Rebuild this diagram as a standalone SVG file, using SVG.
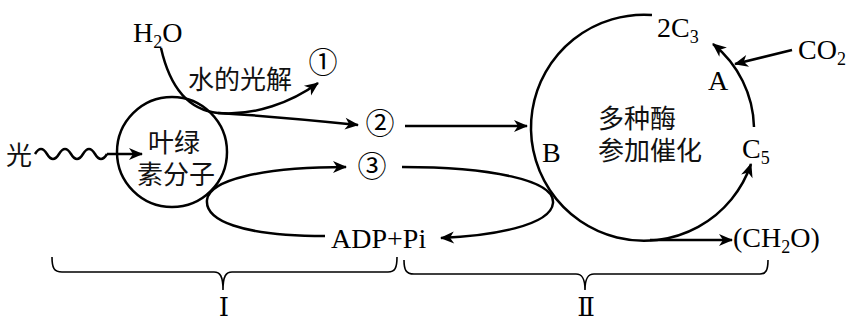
<svg xmlns="http://www.w3.org/2000/svg" width="852" height="322" viewBox="0 0 852 322">
<style>
.ln{fill:none;stroke:#000;stroke-width:2.5}
.br{fill:none;stroke:#000;stroke-width:1.6}
.cj{font-family:"Noto Sans CJK SC","Noto Sans",sans-serif;font-size:26px;fill:#111}
.sr{font-family:"Liberation Serif","DejaVu Serif",serif;font-size:28px;fill:#000}
.rn{font-family:"Liberation Serif","DejaVu Serif",serif;font-size:26px;fill:#000}
.sb{font-size:18px}
.num{font-family:"Noto Sans CJK SC","DejaVu Sans",sans-serif;font-size:29px;fill:#000}
</style>
<defs>
<marker id="ar" markerUnits="userSpaceOnUse" markerWidth="20" markerHeight="14" viewBox="-14 -7 16 14" refX="0" refY="0" orient="auto">
<path d="M1,0 L-13,-6 L-9,0 L-13,6 Z" fill="#000"/>
</marker>
</defs>
<rect width="852" height="322" fill="#fff"/>
<g id="connectors">
<path class="ln" d="M161,48 C170,88 188,110 218,113 C255,116 292,102 318,83" marker-end="url(#ar)"/>
<path class="ln" d="M218,113 C270,116 320,121 358,125" marker-end="url(#ar)"/>
<path class="ln" d="M35,155 Q41,145 47,155 T59,155 T71,155 T83,155 T95,155 T107,155" transform="translate(0,-1)"/>
<path class="ln" d="M107,154 L142,154" marker-end="url(#ar)"/>
<path class="ln" d="M405,126 L527,126" marker-end="url(#ar)"/>
<path class="ln" d="M325,236 C240,236 205,220 207,200 C209,180 262,167 346,167" marker-end="url(#ar)"/>
<path class="ln" d="M402,167 C490,167 555,180 553,203 C551,226 490,236 441,238" marker-end="url(#ar)"/>
<path class="ln" d="M652,15 A113,113 0 1 0 751,164" marker-end="url(#ar)"/>
<path class="ln" d="M754,127 A110,110 0 0 0 713,44" marker-end="url(#ar)"/>
<path class="ln" d="M650,240 L732,240" marker-end="url(#ar)"/>
<path class="ln" d="M792,50 L735,64" marker-end="url(#ar)"/>
</g>
<g id="chlorophyll">
<circle cx="172" cy="152" r="55" fill="none" stroke="#000" stroke-width="2.5"/>
<text class="cj" text-anchor="middle"><tspan x="174" y="152">叶绿</tspan><tspan x="176" dy="32">素分子</tspan></text>
</g>
<g id="light"><text class="cj" x="6" y="165">光</text></g>
<g id="h2o"><text class="sr" x="133" y="42">H<tspan class="sb" dy="6">2</tspan><tspan dy="-6">O</tspan></text></g>
<g id="photolysis"><text class="cj" x="188" y="89">水的光解</text></g>
<g id="n1"><text class="num" x="323" y="73" text-anchor="middle">①</text></g>
<g id="n2"><text class="num" x="380" y="134" text-anchor="middle">②</text></g>
<g id="n3"><text class="num" x="372" y="177" text-anchor="middle">③</text></g>
<g id="adp"><text class="sr" x="331" y="248">ADP+Pi</text></g>
<g id="c3"><text class="sr" x="657" y="37">2C<tspan class="sb" dy="6">3</tspan></text></g>
<g id="co2"><text class="sr" x="798" y="59">CO<tspan class="sb" dy="6">2</tspan></text></g>
<g id="labelA"><text class="sr" x="708" y="90">A</text></g>
<g id="labelB"><text class="sr" x="542" y="162">B</text></g>
<g id="c5"><text class="sr" x="742" y="158">C<tspan class="sb" dy="6">5</tspan></text></g>
<g id="enzymes">
<text class="cj"><tspan x="598" y="128">多种酶</tspan><tspan x="598" dy="32">参加催化</tspan></text>
</g>
<g id="ch2o"><text class="sr" x="733" y="247">(CH<tspan class="sb" dy="6">2</tspan><tspan dy="-6">O)</tspan></text></g>
<g id="braceI">
<path class="br" d="M52,257 C52,268 54,272 62,272 L214,272 C220,272 223,276 223,290 C223,276 226,272 232,272 L388,272 C395,272 397,268 397,257"/>
<text class="rn" x="224" y="316" text-anchor="middle">Ⅰ</text>
</g>
<g id="braceII">
<path class="br" d="M404,260 C404,270 406,274 414,274 L576,274 C582,274 585,278 585,290 C585,278 588,274 594,274 L760,274 C766,274 768,270 768,260"/>
<text class="rn" x="586" y="316" text-anchor="middle">Ⅱ</text>
</g>
</svg>
